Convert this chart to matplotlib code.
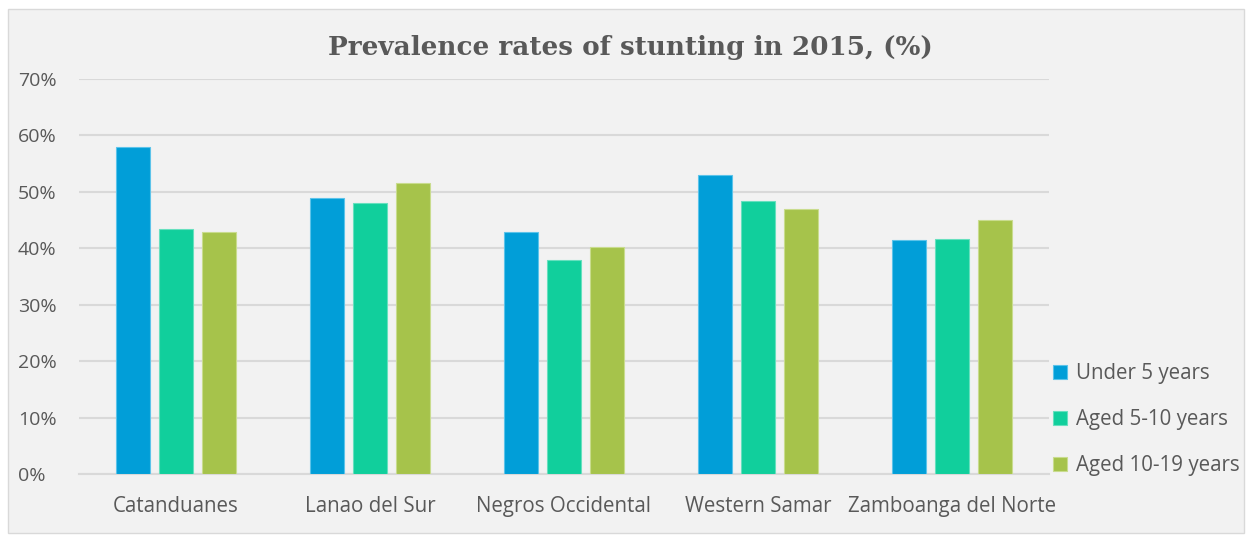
import matplotlib
matplotlib.use("Agg")
import matplotlib.pyplot as plt
import numpy as np
from matplotlib.patches import Rectangle

categories = ["Catanduanes", "Lanao del Sur", "Negros Occidental", "Western Samar", "Zamboanga del Norte"]
series_names = ["Under 5 years", "Aged 5-10 years", "Aged 10-19 years"]
under5 = [58.0, 49.0, 42.8, 52.9, 41.4]
aged5_10 = [43.4, 48.1, 38.0, 48.3, 41.7]
aged10_19 = [42.9, 51.5, 40.2, 47.0, 45.0]
yticks = [0, 10, 20, 30, 40, 50, 60, 70]
ytick_labels = ["0%", "10%", "20%", "30%", "40%", "50%", "60%", "70%"]
colors = ["#019ED8", "#11CF9C", "#A6C34B"]
edge_colors = ["#5CC3EA", "#66E0BE", "#C9DC8E"]

FONT = "Open Sans"
FS_X = 14.8
FS_Y = 14.0
TXT = "#595959"

W, H = 1252, 542
fig = plt.figure(figsize=(W / 100, H / 100), dpi=100)
fig.patch.set_facecolor("white")
bg = Rectangle((8 / W, 9 / H), (1244 - 8) / W, (533 - 9) / H, transform=fig.transFigure,
               facecolor="#F2F2F2", edgecolor="#D9D9D9", linewidth=1, zorder=-10)
fig.patches.append(bg)

ax = fig.add_axes([79 / W, (H - 474) / H, (1049 - 79) / W, (474 - 79) / H])
ax.set_zorder(1)
ax.set_facecolor("none")
ax.set_xlim(-0.5, 4.5)
ax.set_ylim(0, 70)

x = np.arange(len(categories))
bw = 0.175
step = 0.222
for i, (vals, c, ec, name) in enumerate(zip([under5, aged5_10, aged10_19], colors, edge_colors, series_names)):
    ax.bar(x + (i - 1) * step, vals, width=bw, color=c, edgecolor=ec, linewidth=0.8, label=name, zorder=3)

ax.set_yticks(yticks)
ax.set_yticklabels(ytick_labels)
ax.set_xticks(x)
ax.set_xticklabels(categories)
ax.grid(axis="y", color="#D9D9D9", linewidth=1.5, zorder=0)
ax.set_axisbelow(True)
for s in ["top", "right", "left"]:
    ax.spines[s].set_visible(False)
ax.spines["bottom"].set_color("#D9D9D9")
ax.spines["bottom"].set_linewidth(1.5)
ax.tick_params(axis="both", length=0, colors=TXT)
ax.tick_params(axis="x", pad=16, labelsize=FS_X)
ax.tick_params(axis="y", pad=44, labelsize=FS_Y)
for lab in ax.get_xticklabels() + ax.get_yticklabels():
    lab.set_fontfamily(FONT)
for lab in ax.get_yticklabels():
    lab.set_horizontalalignment("left")

leg = ax.legend(loc="upper left", bbox_to_anchor=(1053 / W, (H - 363) / H),
                bbox_transform=fig.transFigure, frameon=False,
                prop={"family": FONT, "size": FS_X}, labelcolor=TXT,
                handlelength=0.7, handleheight=0.7, handletextpad=0.4, labelspacing=1.22,
                borderaxespad=0, borderpad=0)

fig.text(630 / W, 1 - 47 / H, "Prevalence rates of stunting in 2015, (%)", ha="center", va="center",
         fontsize=18.9, fontweight="bold", family="DejaVu Serif", color=TXT)

fig.savefig("out.png", dpi=100, facecolor=fig.get_facecolor())
